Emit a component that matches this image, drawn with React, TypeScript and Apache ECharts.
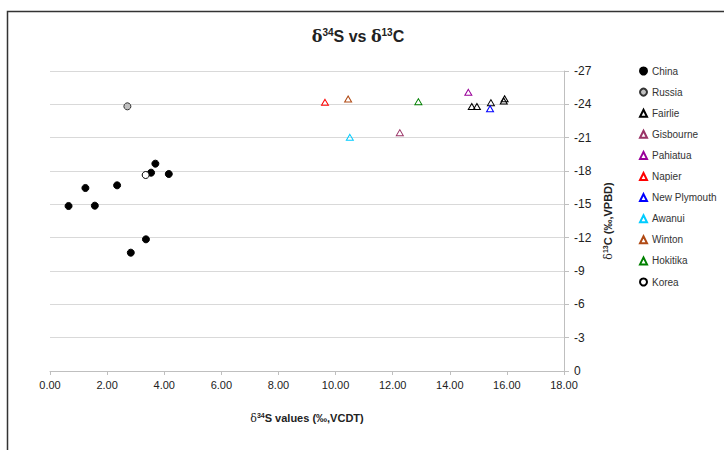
import React, { useEffect, useRef } from "react";
import * as echarts from "echarts";

const seriesNames = ["China", "Russia", "Fairlie", "Gisbourne", "Pahiatua", "Napier", "New Plymouth", "Awanui", "Winton", "Hokitika", "Korea"];

const chinaX = [0.65, 1.24, 1.57, 2.35, 2.83, 3.36, 3.54, 3.69, 4.16];
const chinaY = [-14.85, -16.47, -14.88, -16.71, -10.65, -11.85, -17.85, -18.66, -17.73];
const russiaX = [2.71];
const russiaY = [-23.82];
const fairlieX = [14.77, 14.95, 15.44, 15.89, 15.92];
const fairlieY = [-23.8, -23.8, -24.15, -24.3, -24.5];
const gisbourneX = [12.25];
const gisbourneY = [-21.45];
const pahiatuaX = [14.65];
const pahiatuaY = [-25.08];
const napierX = [9.63];
const napierY = [-24.18];
const newPlymouthX = [15.41];
const newPlymouthY = [-23.6];
const awanuiX = [10.5];
const awanuiY = [-21.03];
const wintonX = [10.44];
const wintonY = [-24.48];
const hokitikaX = [12.9];
const hokitikaY = [-24.24];
const koreaX = [3.35];
const koreaY = [-17.64];

const xTicks = { min: 0, max: 18, interval: 2 };
const yTicks = { min: -27, max: 0, interval: 3 };

const FONT = "'Liberation Sans', Arial, sans-serif";

const pairs = (xs: number[], ys: number[]) => xs.map((x, i) => [x, ys[i]]);

export default function App() {
  const ref = useRef<HTMLDivElement>(null);
  useEffect(() => {
    if (!ref.current) return;
    const chart = echarts.init(ref.current, undefined, { renderer: "svg" });
    const tri = (name: string, xs: number[], ys: number[], color: string) => ({
      name,
      type: "scatter",
      data: pairs(xs, ys),
      symbol: "triangle",
      symbolSize: [7, 6],
      itemStyle: { color: "rgba(255,255,255,0)", borderColor: color, borderWidth: 1, opacity: 1 },
    });
    const sup = { fontSize: 9, fontWeight: "bold", fontFamily: FONT, color: "#222", padding: [0, 0, 6, 0] };
    chart.setOption({
      animation: false,
      backgroundColor: "#fff",
      title: {
        text: "{d|δ}{sup|34}{b|S vs }{d|δ}{sup|13}{b|C}",
        left: 353,
        top: 22,
        textAlign: "center",
        textStyle: {
          rich: {
            d: { fontSize: 16, fontFamily: "'DejaVu Serif', serif", color: "#222" },
            sup: { ...sup, fontSize: 10, padding: [0, 0, 8, 0] },
            b: { fontSize: 16, fontWeight: "bold", fontFamily: FONT, color: "#222" },
          },
        },
      },
      graphic: [
        {
          type: "rect",
          shape: { x: 7.5, y: 11.5, width: 900, height: 600 },
          style: { fill: "none", stroke: "#333", lineWidth: 1.5 },
          silent: true,
        },
      ],
      legend: {
        orient: "vertical",
        left: 634,
        top: 61,
        itemWidth: 7,
        itemHeight: 7,
        itemGap: 11.1,
        textStyle: { fontSize: 10, fontFamily: FONT, color: "#333" },
        data: seriesNames,
      },
      grid: { left: 50, right: 160, top: 71, bottom: 79 },
      xAxis: {
        type: "value",
        min: xTicks.min,
        max: xTicks.max,
        interval: xTicks.interval,
        name: "{d|δ}{sup|34}{b|S values (‰,VCDT)}",
        nameLocation: "middle",
        nameGap: 41,
        nameTextStyle: {
          rich: {
            d: { fontSize: 11, fontFamily: "'DejaVu Serif', serif", color: "#222" },
            sup: { ...sup, fontSize: 7, padding: [0, 0, 5, 0] },
            b: { fontSize: 11, fontWeight: "bold", fontFamily: FONT, color: "#222" },
          },
        },
        axisLine: { show: true, onZero: false, lineStyle: { color: "#bfbfbf", width: 1 } },
        axisTick: { show: true, length: 4, lineStyle: { color: "#bfbfbf" } },
        axisLabel: { formatter: (v: number) => v.toFixed(2), fontSize: 11, fontFamily: FONT, color: "#222", margin: 8 },
        splitLine: { show: false },
      },
      yAxis: {
        type: "value",
        position: "right",
        inverse: true,
        min: yTicks.min,
        max: yTicks.max,
        interval: yTicks.interval,
        name: "{d|δ}{sup|13}{b|C (‰,VPBD)}",
        nameLocation: "middle",
        nameGap: 38,
        nameRotate: 90,
        nameTextStyle: {
          rich: {
            d: { fontSize: 11, fontFamily: "'DejaVu Serif', serif", color: "#222" },
            sup: { ...sup, fontSize: 7, padding: [0, 0, 5, 0] },
            b: { fontSize: 11, fontWeight: "bold", fontFamily: FONT, color: "#222" },
          },
        },
        axisLine: { show: true, onZero: false, lineStyle: { color: "#bfbfbf", width: 1 } },
        axisTick: { show: true, length: 5, lineStyle: { color: "#bfbfbf" } },
        axisLabel: { fontSize: 12, fontFamily: FONT, color: "#222", margin: 10 },
        splitLine: { show: true, lineStyle: { color: "#d9d9d9", width: 1 } },
      },
      series: [
        {
          name: "China",
          type: "scatter",
          data: pairs(chinaX, chinaY),
          symbol: "circle",
          symbolSize: 7,
          itemStyle: { color: "#000", borderColor: "#000", borderWidth: 1, opacity: 1 },
        },
        {
          name: "Russia",
          type: "scatter",
          data: pairs(russiaX, russiaY),
          symbol: "circle",
          symbolSize: 7,
          itemStyle: { color: "#c0c0c0", borderColor: "#333", borderWidth: 1, opacity: 1 },
        },
        tri("Fairlie", fairlieX, fairlieY, "#000000"),
        tri("Gisbourne", gisbourneX, gisbourneY, "#993366"),
        tri("Pahiatua", pahiatuaX, pahiatuaY, "#990099"),
        tri("Napier", napierX, napierY, "#ff0000"),
        tri("New Plymouth", newPlymouthX, newPlymouthY, "#0000ff"),
        tri("Awanui", awanuiX, awanuiY, "#00ccff"),
        tri("Winton", wintonX, wintonY, "#b04a14"),
        tri("Hokitika", hokitikaX, hokitikaY, "#008000"),
        {
          name: "Korea",
          type: "scatter",
          data: pairs(koreaX, koreaY),
          symbol: "circle",
          symbolSize: 7,
          itemStyle: { color: "#fff", borderColor: "#000", borderWidth: 1, opacity: 1 },
        },
      ],
    });
    return () => chart.dispose();
  }, []);
  return (
    <div
      ref={ref}
      style={{ position: "fixed", left: 0, top: 0, width: 724, height: 450 }}
    />
  );
}
